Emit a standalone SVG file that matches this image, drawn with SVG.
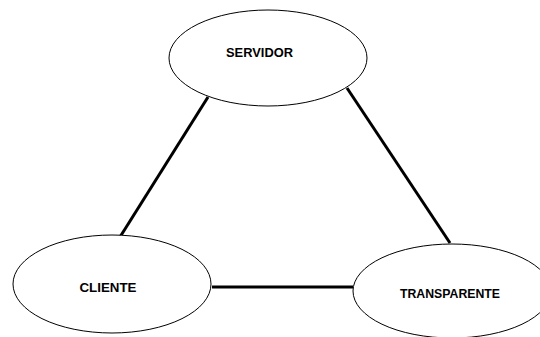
<svg xmlns="http://www.w3.org/2000/svg" width="540" height="337" viewBox="0 0 540 337">
<style>
.n ellipse{fill:#fff;stroke:#000;stroke-width:1}
.n text{font-family:"Liberation Sans",Arial,sans-serif;font-weight:bold;font-size:13px;text-anchor:middle;fill:#000}
.c line{stroke:#000;stroke-width:3}
</style>
<rect width="540" height="337" fill="#fff"/>
<g class="c">
<line x1="208" y1="97" x2="120" y2="237"/>
<line x1="347" y1="88" x2="450" y2="243"/>
<line x1="212" y1="287" x2="353" y2="287"/>
</g>
<g id="servidor" class="n">
<ellipse cx="268" cy="58" rx="99" ry="48"/>
<text x="259.5" y="57" textLength="67" lengthAdjust="spacingAndGlyphs">SERVIDOR</text>
</g>
<g id="cliente" class="n">
<ellipse cx="112" cy="284" rx="99" ry="49"/>
<text x="108" y="292" textLength="57" lengthAdjust="spacingAndGlyphs">CLIENTE</text>
</g>
<g id="transparente" class="n">
<ellipse cx="452" cy="291" rx="99" ry="47"/>
<text x="450" y="298" textLength="100" lengthAdjust="spacingAndGlyphs">TRANSPARENTE</text>
</g>
</svg>
